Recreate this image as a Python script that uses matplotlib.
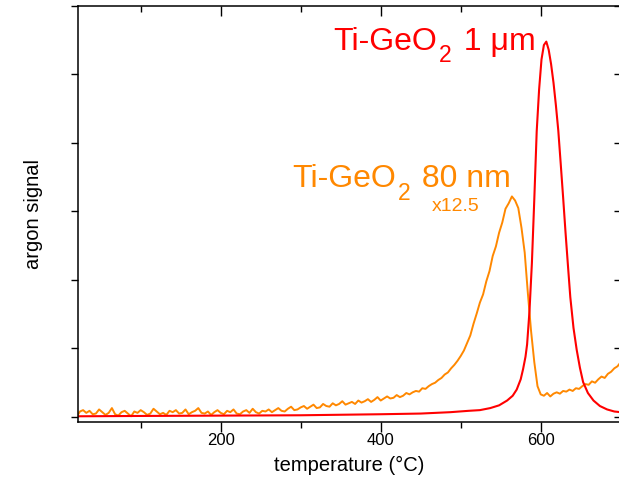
"""Argon release vs temperature for two Ti-GeO2 films (TDS trace)."""
import matplotlib
matplotlib.use("Agg")
import matplotlib.pyplot as plt
from matplotlib.ticker import MultipleLocator, NullFormatter
from matplotlib.transforms import offset_copy

plt.rcParams["font.family"] = ["Liberation Sans", "DejaVu Sans"]

# 80 nm film, signal multiplied by 12.5, sampled every 4 degC from 20 to 700
t_80nm = list(range(20, 701, 4))
sig_80nm = [
    0.00, 0.08, 0.10, 0.06, 0.09, 0.04, 0.05, 0.11, 0.07, 0.03,
    0.06, 0.13, 0.04, 0.02, 0.07, 0.09, 0.05, 0.01, 0.08, 0.06,
    0.10, 0.07, 0.03, 0.05, 0.12, 0.08, 0.04, 0.06, 0.03, 0.09,
    0.07, 0.10, 0.05, 0.06, 0.11, 0.04, 0.07, 0.09, 0.13, 0.06,
    0.05, 0.08, 0.03, 0.07, 0.10, 0.06, 0.04, 0.09, 0.07, 0.11,
    0.05, 0.04, 0.08, 0.10, 0.06, 0.12, 0.07, 0.05, 0.09, 0.08,
    0.11, 0.07, 0.10, 0.13, 0.09, 0.08, 0.12, 0.15, 0.10, 0.11,
    0.14, 0.16, 0.12, 0.15, 0.18, 0.13, 0.14, 0.19, 0.16, 0.15,
    0.20, 0.17, 0.19, 0.23, 0.18, 0.20, 0.22, 0.19, 0.24, 0.21,
    0.23, 0.26, 0.22, 0.25, 0.29, 0.24, 0.27, 0.30, 0.27, 0.28,
    0.32, 0.29, 0.31, 0.35, 0.33, 0.36, 0.38, 0.37, 0.42, 0.41,
    0.45, 0.48, 0.50, 0.54, 0.57, 0.62, 0.65, 0.71, 0.76, 0.82,
    0.89, 0.97, 1.08, 1.19, 1.36, 1.51, 1.67, 1.79, 1.98, 2.13,
    2.35, 2.49, 2.69, 2.84, 3.04, 3.12, 3.22, 3.16, 3.05, 2.76,
    2.40, 1.80, 1.25, 0.80, 0.45, 0.33, 0.31, 0.35, 0.30, 0.34,
    0.36, 0.34, 0.38, 0.37, 0.40, 0.38, 0.42, 0.41, 0.45, 0.48,
    0.47, 0.52, 0.50, 0.55, 0.59, 0.57, 0.63, 0.66, 0.71, 0.74,
    0.80,
]

# 1 um film, raw signal
t_1um = [20, 100, 200, 300, 400, 450, 487, 510, 524, 537, 548, 558, 565,
         570, 575, 578, 581, 583, 586, 589, 592, 595, 598, 601, 604, 607,
         610, 613, 616, 619, 622, 625, 628, 631, 634, 637, 641, 645, 649,
         653, 659, 666, 674, 683, 692, 700]
sig_1um = [0.01, 0.015, 0.02, 0.025, 0.04, 0.05, 0.07, 0.09, 0.10, 0.13,
           0.17, 0.24, 0.31, 0.40, 0.55, 0.70, 0.88, 1.06, 1.55, 2.25,
           3.18, 4.17, 4.78, 5.22, 5.43, 5.48, 5.36, 5.15, 4.88, 4.55,
           4.18, 3.70, 3.21, 2.70, 2.22, 1.75, 1.30, 0.98, 0.72, 0.51,
           0.35, 0.24, 0.16, 0.11, 0.08, 0.07]

RED, ORANGE = "#ff0000", "#ff8800"

W, H = 619, 478
fig = plt.figure(figsize=(W / 100, H / 100), dpi=100)
ax = fig.add_axes([77.5 / W, (H - 421.5) / H, 543.2 / W, 415.5 / H])

ax.plot(t_80nm, sig_80nm, color=ORANGE, lw=1.4)
ax.plot(t_1um, sig_1um, color=RED, lw=1.5)

ax.set_xlim(21, 700)
ax.set_ylim(-0.066, 6)

ax.xaxis.set_major_locator(MultipleLocator(200))
ax.xaxis.set_minor_locator(MultipleLocator(100))
ax.yaxis.set_major_locator(MultipleLocator(1))
ax.yaxis.set_major_formatter(NullFormatter())
ax.tick_params(axis="x", which="major", direction="out", length=7, width=1, pad=1.5,
               labelsize=12, top=True)
ax.tick_params(axis="x", which="minor", direction="out", length=4.5, width=1, top=True)
ax.tick_params(axis="y", which="major", direction="out", length=5, width=1, right=True)
# mirrored ticks on top/right point into the plot
for tl in ax.xaxis.get_major_ticks() + ax.xaxis.get_minor_ticks():
    tl.tick2line.set_marker(matplotlib.lines.TICKDOWN)
for tl in ax.yaxis.get_major_ticks():
    tl.tick2line.set_marker(matplotlib.lines.TICKLEFT)
for s in ax.spines.values():
    s.set_linewidth(1.1)

ax.set_xlabel("temperature (°C)", fontsize=14.5, labelpad=5.5)
ax.set_ylabel("argon signal", fontsize=14.5)
ax.yaxis.set_label_coords(-0.064, 0.5)


def label(x, y, parts, color):
    """Write text pieces one after another; each piece is (text, size, drop in px, gap after in px)."""
    r = fig.canvas.get_renderer()
    dx = 0.0
    for s, size, drop, gap in parts:
        tr = offset_copy(ax.transData, fig=fig, x=dx, y=-drop, units="dots")
        t = ax.text(x, y, s, color=color, fontsize=size, va="baseline", transform=tr)
        dx += t.get_window_extent(r).width + gap


label(340.5, 5.36, [("Ti-GeO", 23, 0, 2), ("2", 16.5, 12, 4), (" 1 μm", 23, 0, 0)], RED)
label(289, 3.36, [("Ti-GeO", 23, 0, 2), ("2", 16.5, 13, 3), (" 80 nm", 23, 0, 0)], ORANGE)
ax.text(464, 3.0, "x12.5", color=ORANGE, fontsize=14, va="baseline")

fig.savefig("out.png")
